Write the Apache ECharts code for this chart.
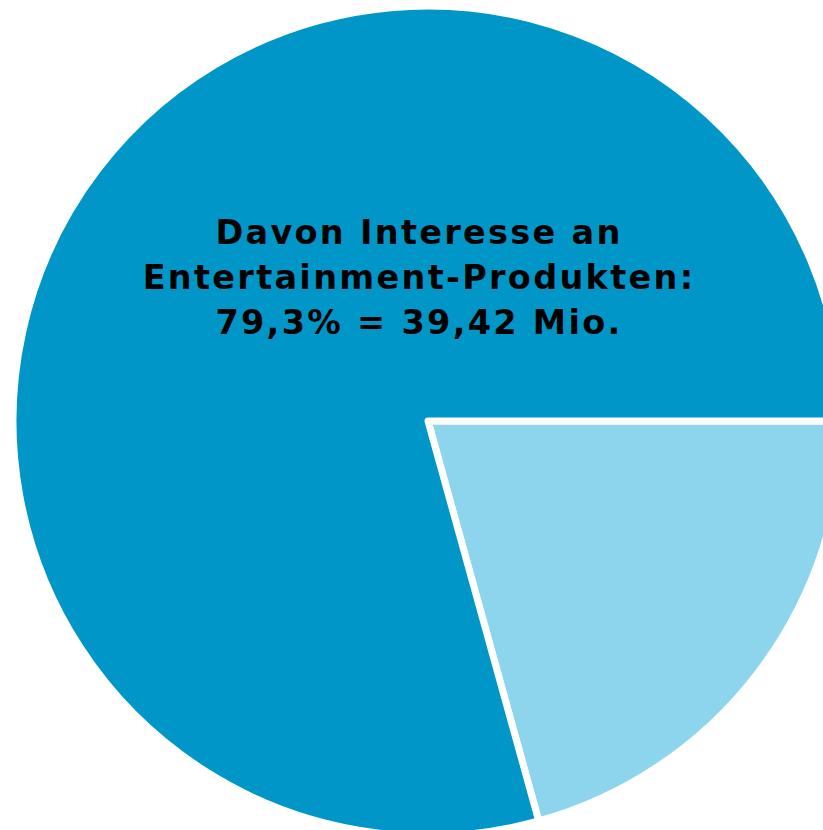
<!DOCTYPE html>
<html>
<head>
<meta charset="utf-8">
<script src="https://cdn.jsdelivr.net/npm/echarts@6/dist/echarts.min.js"></script>
<style>
  html, body { margin: 0; padding: 0; background: #ffffff; }
  #chart { width: 823px; height: 830px; }
  /* tracked-out headline lettering */
  #chart svg text { letter-spacing: 2.3px; }
</style>
</head>
<body>
<div id="chart"></div>
<script>
// Share of people interested in entertainment products
const categories = ['Kein Interesse', 'Interesse an Entertainment-Produkten'];
const shares = [20.7, 79.3];
const colors = ['#8dd5ec', '#0097c8'];
const headline = ['Davon Interesse an', 'Entertainment-Produkten:', '79,3% = 39,42 Mio.'];

const chart = echarts.init(document.getElementById('chart'), null, { renderer: 'svg' });

chart.setOption({
  backgroundColor: '#ffffff',
  animation: false,
  title: {
    text: headline.join('\n'),
    left: 414,
    top: 205,
    textAlign: 'center',
    textStyle: {
      fontFamily: 'DejaVu Sans',
      fontWeight: 'bold',
      fontSize: 33.5,
      lineHeight: 45,
      color: '#000000'
    }
  },
  series: [{
    type: 'pie',
    center: [428, 421],
    radius: [0, 415],
    startAngle: 0,
    clockwise: true,
    label: { show: false },
    labelLine: { show: false },
    emphasis: { disabled: true },
    itemStyle: { borderColor: '#ffffff', borderWidth: 7 },
    data: categories.map((name, i) => ({
      name: name,
      value: shares[i],
      itemStyle: { color: colors[i] }
    }))
  }]
});
</script>
</body>
</html>
